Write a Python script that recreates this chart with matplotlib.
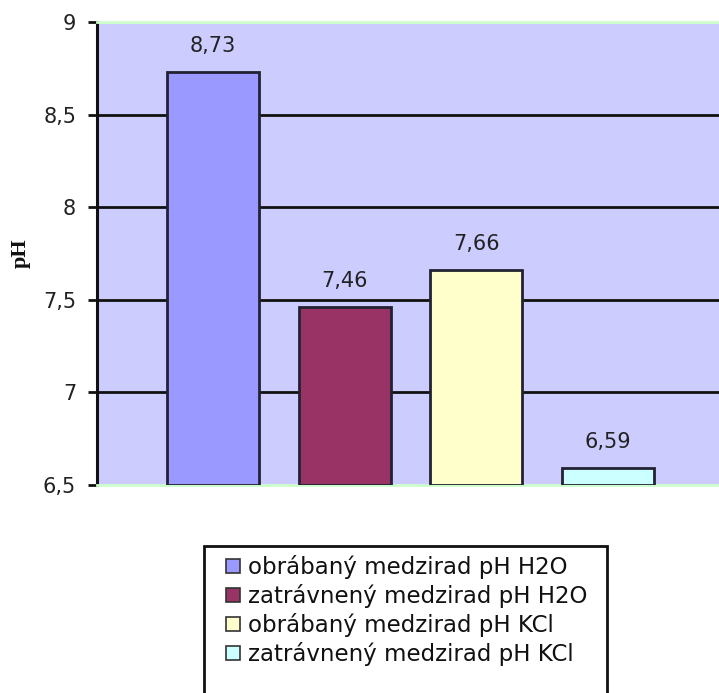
import matplotlib
matplotlib.use("Agg")
import matplotlib.pyplot as plt
from matplotlib.patches import Rectangle, Patch

series = ["obrábaný medzirad pH H2O", "zatrávnený medzirad pH H2O",
          "obrábaný medzirad pH KCl", "zatrávnený medzirad pH KCl"]
values = [8.73, 7.46, 7.66, 6.59]
labels = ["8,73", "7,46", "7,66", "6,59"]
colors = ["#9999FF", "#993366", "#FFFFCC", "#CCFFFF"]
yticks = [6.5, 7, 7.5, 8, 8.5, 9]
ytick_labels = ["6,5", "7", "7,5", "8", "8,5", "9"]

W, H = 719, 693
plt.rcParams["font.family"] = ["DejaVu Sans"]
fig = plt.figure(figsize=(W / 100, H / 100), dpi=100)

left, right, top, bottom = 97, 724, 22, 485
ax = fig.add_axes([left / W, (H - bottom) / H, (right - left) / W, (bottom - top) / H])
ax.set_facecolor("#CCCCFF")

ymin = 6.5
xs = list(range(len(values)))
ax.bar(xs, [v - ymin for v in values], bottom=ymin, width=0.699,
       color=colors, edgecolor="#222233", linewidth=2, zorder=3)
for x, v, t in zip(xs, values, labels):
    ax.annotate(t, (x, v), xytext=(0, 19), textcoords="offset points",
                ha="center", va="center", fontsize=15, color="#222222", zorder=4)

ax.set_xlim(-0.881, 3.881)
ax.set_ylim(6.5, 9)
ax.set_yticks(yticks)
ax.set_yticklabels(ytick_labels, fontsize=15, color="#222222")
ax.set_xticks([])
for y in yticks[1:-1]:
    ax.axhline(y, color="#111111", linewidth=2, zorder=1)
ax.spines["right"].set_visible(False)
ax.spines["left"].set_color("#111111")
ax.spines["left"].set_linewidth(2.2)
ax.spines["bottom"].set_color("#CCFFCC")
ax.spines["bottom"].set_linewidth(2)
ax.spines["top"].set_color("#CCFFCC")
ax.spines["top"].set_linewidth(2)
ax.tick_params(axis="y", length=6.5, width=2, color="#111111", pad=8.5)

fig.text(21 / W, 1 - 253 / H, "pH", rotation=90, ha="center", va="center",
         fontsize=16, fontweight="bold", family="Liberation Serif", color="#111111")

# legend box, open at the bottom of the figure
fig.patches.append(Rectangle((204 / W, -0.05), (607 - 204) / W, (H - 546) / H + 0.05,
                             transform=fig.transFigure, facecolor="white",
                             edgecolor="#111111", linewidth=2, zorder=0))
handles = [Patch(facecolor=c, edgecolor="#333333", linewidth=1.2) for c in colors]
fig.legend(handles, series, loc="upper left", bbox_to_anchor=(226 / W, 1 - 555 / H),
           frameon=False, fontsize=16.5, handlelength=0.6, handleheight=0.6,
           handletextpad=0.35, labelspacing=0.22, borderpad=0.0, borderaxespad=0.0,
           labelcolor="#111111")

fig.savefig("out.png", dpi=100)
